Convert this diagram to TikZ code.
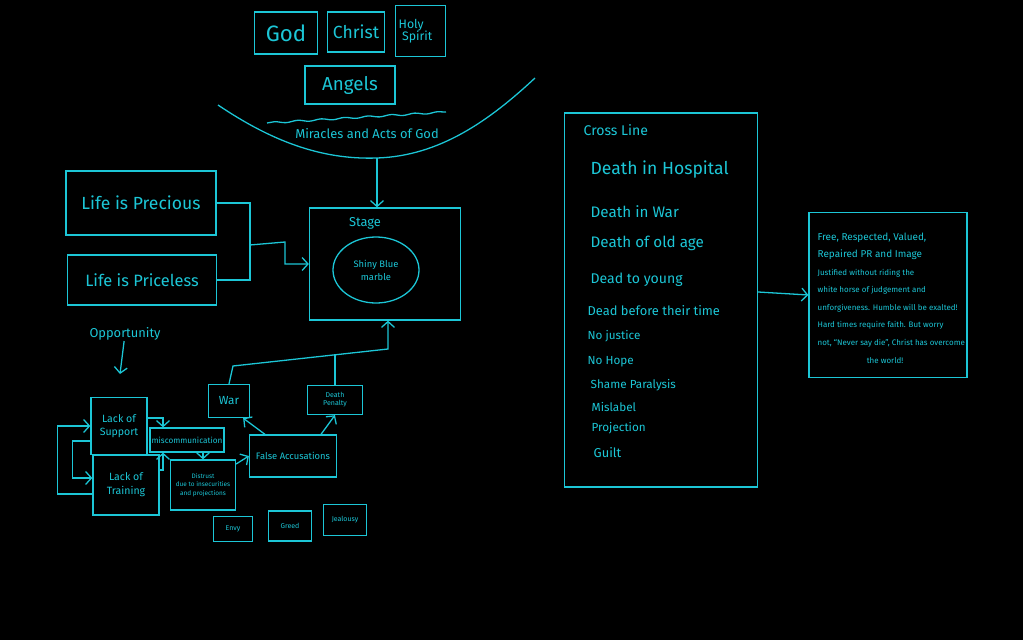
\documentclass[tikz,border=0pt]{standalone}
\usepackage{fontspec}
\setmainfont{Fira Sans}
\usetikzlibrary{arrows.meta,shapes.geometric,decorations.pathmorphing}
\definecolor{ink}{RGB}{28,198,214}
\newlength\px
\setlength\px{0.03cm}
\newcommand\fsz[2]{\fontsize{#1}{#2}\selectfont}
\begin{document}
\begin{tikzpicture}[x=0.03cm,y=-0.03cm,
  every path/.style={draw=ink,line width=1.1pt},
  box/.style 2 args={draw=ink,text=ink,align=center,inner sep=1pt,minimum width=#1\px,minimum height=#2\px},
  txt/.style={text=ink,align=center,inner sep=0pt},
  item/.style={text=ink,anchor=west,inner sep=0pt},
  arr/.style={-{Straight Barb[length=5pt,width=11pt]}}]
\fill[black,draw=none] (0,0) rectangle (1023,640);

\node[box={63}{42},font=\fsz{19}{20}] (god) at (286,33) {God};
\node[box={57}{40},font=\fsz{15}{16}] (christ) at (356,32) {Christ};
\node[box={50}{51},font=\fsz{10.5}{11},align=left,anchor=north west,text width=44\px,inner sep=2pt] (spirit) at (395,5) {Holy\\[-1pt]\hspace*{3pt}Spirit};
\node[box={90}{38},font=\fsz{16}{17}] (angels) at (350,85) {Angels};

\draw (218,105) .. controls (270,140) and (320,160) .. (377,158) .. controls (440,156) and (490,120) .. (535,78);
\draw[decorate,decoration={snake,amplitude=0.7pt,segment length=20pt}] (267,123) -- (446,112);
\node[txt,font=\fsz{11}{12}] (acts) at (367,134) {Miracles and Acts of God};
\coordinate (bowl) at (377,158);

\node[box={151}{112}] (stage) at (385,264) {};
\node[txt,font=\fsz{11}{12}] (stagelbl) at (365,223) {Stage};
\node[ellipse,box={86}{66},font=\fsz{8}{11}] (marble) at (376,270) {Shiny Blue\\marble};
\draw[arr] (bowl) -- (stage.north -| bowl);

\node[box={150}{64},font=\fsz{15}{16}] (precious) at (141,203) {Life is Precious};
\node[box={149}{50},font=\fsz{14}{15}] (priceless) at (142,280) {Life is Priceless};
\coordinate (join) at (250,245);
\draw (precious.east) -| (join) |- (priceless.east);
\draw[arr] (join) -- ++(35,-3) |- (stage.west);

\node[txt,font=\fsz{11}{12}] (opp) at (125,334) {Opportunity};
\coordinate (oppend) at (120,374);
\draw[arr] (opp) -- (oppend);

\node[box={56}{57},font=\fsz{9}{11}] (support) at (119,426) {Lack of\\Support};
\node[box={66}{60},font=\fsz{9}{12}] (training) at (126,485) {Lack of\\Training};
\node[box={74}{24},font=\fsz{7}{8}] (misc) at (187,440) {miscommunication};
\node[box={65}{50},font=\fsz{5.5}{7}] (distrust) at (203,485) {Distrust\\due to insecurities\\and projections};
\node[box={87}{42},font=\fsz{8}{9}] (fa) at (293,456) {False Accusations};
\node[box={41}{33},font=\fsz{10}{11}] (war) at (229,401) {War};
\node[box={55}{29},font=\fsz{6}{7}] (dp) at (335,400) {Death\\Penalty};

\draw[arr] ([yshift=-9\px]training.west) -- ++(-35,0) |- (support.west);
\draw[arr] ([yshift=-15\px]support.west) -- ++(-18,0) |- ([yshift=7\px]training.west);
\draw[arr] ([yshift=8\px]support.east) -| ([xshift=-24\px]misc.north);
\draw[arr] ([yshift=15\px]training.east) -| ([xshift=-24\px]misc.south);
\draw[arr] (misc.south -| distrust.north) -- (distrust.north);
\draw[arr] ([yshift=21\px]distrust.east) -- (fa.west);
\draw[arr] ([xshift=-28\px]fa.north) -- ([xshift=-7\px]war.south east);
\draw[arr] ([xshift=28\px]fa.north) -- (dp.south);

\coordinate (busL) at (233,366);
\coordinate (busR) at (388,349);
\draw[arr] (war.north) -- (busL) -- (busR) -- (busR |- stage.south);
\draw (dp.north) -- ++(0,-31);

\node[box={39}{25},font=\fsz{6}{7}] (envy) at (233,529) {Envy};
\node[box={43}{30},font=\fsz{6}{7}] (greed) at (290,526) {Greed};
\node[box={43}{31},font=\fsz{6}{7}] (jealousy) at (345,520) {Jealousy};

\node[box={193}{374}] (list) at (661,300) {};
\node[item,font=\fsz{12}{13}] (cross) at (583,130) {Cross Line};
\node[item,font=\fsz{15}{16}] (hospital) at (590,170) {Death in Hospital};
\node[item,font=\fsz{13}{14}] (inwar) at (590,212) {Death in War};
\node[item,font=\fsz{13}{14}] (oldage) at (590,243) {Death of old age};
\node[item,font=\fsz{12}{13}] (young) at (590,280) {Dead to young};
\node[item,font=\fsz{11}{12}] (before) at (587,311) {Dead before their time};
\node[item,font=\fsz{10}{11}] (justice) at (587,336) {No justice};
\node[item,font=\fsz{10}{11}] (hope) at (587,362) {No Hope};
\node[item,font=\fsz{10}{11}] (shame) at (590,385) {Shame Paralysis};
\node[item,font=\fsz{10}{11}] (mislabel) at (591,407) {Mislabel};
\node[item,font=\fsz{10}{11}] (projection) at (591,428) {Projection};
\node[item,font=\fsz{11}{12}] (guilt) at (593,453) {Guilt};

\node[box={158}{165}] (goal) at (888,295) {};
\node[txt,font=\fsz{6.8}{15},align=left,anchor=north west] (goaltext) at (817,232) {{\fsz{8.5}{15}Free, Respected, Valued,}\\{\fsz{8.5}{15}Repaired PR and Image}\\Justified without riding the\\white horse of judgement and\\unforgiveness. Humble will be exalted!\\Hard times require faith. But worry\\not, ``Never say die'', Christ has overcome\\\hspace*{42pt}the world!};
\draw[arr] ([yshift=8\px]list.east) -- (goal.west);
\end{tikzpicture}
\end{document}
